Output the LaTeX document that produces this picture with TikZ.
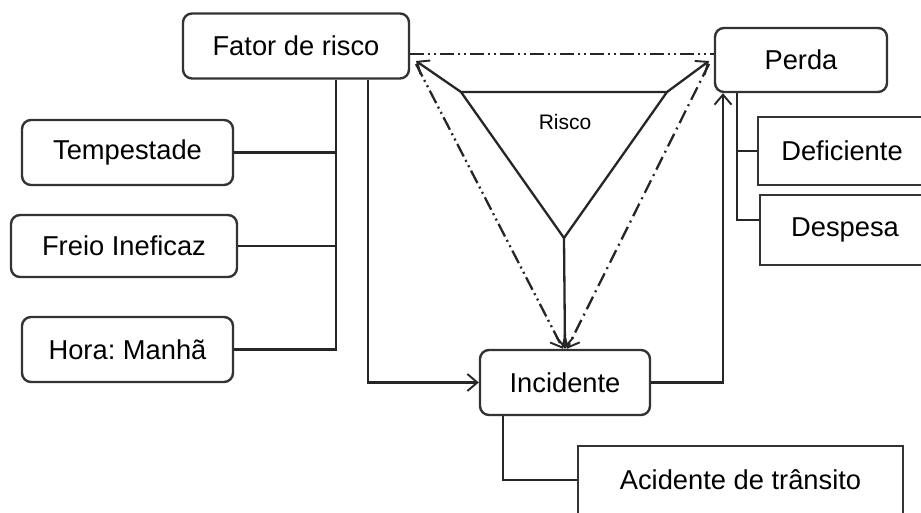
\documentclass[tikz,border=0pt]{standalone}
\usepackage{fontspec}
\setmainfont{Liberation Sans}
\frenchspacing
\usetikzlibrary{arrows.meta}
\tikzset{
	caixa/.style={draw=black!80,line width=2.4pt,rounded corners=9pt,inner sep=0pt,
		font=\fontsize{27.3}{32}\selectfont},
	quadro/.style={caixa,rounded corners=0pt},
	liga/.style={draw=black!85,line width=2.3pt},
	seta/.style={liga,-{Straight Barb[length=10pt,width=17pt,line width=1.9pt]}},
	traco/.style={seta,dash pattern=on 14pt off 5pt on 2pt off 5pt},
	tracoduplo/.style={seta,dash pattern=on 14pt off 4pt on 2pt off 4pt on 2pt off 4pt}
}
\begin{document}
\begin{tikzpicture}[x=1pt,y=-1pt]
\useasboundingbox (0,0) rectangle (921,512);
\clip (0,0) rectangle (921,512);
\node[caixa,minimum width=226pt,minimum height=65pt] (fator) at (296,46) {Fator de risco};
\node[caixa,minimum width=172pt,minimum height=64pt] (perda) at (801,60) {Perda};
\node[quadro,minimum width=168pt,minimum height=68pt] (deficiente) at (842,151) {Deficiente};
\node[quadro,minimum width=170pt,minimum height=70pt] (despesa) at (845,230) {Despesa};
\node[caixa,minimum width=170pt,minimum height=65pt] (incidente) at (565,382.5) {Incidente};
\node[quadro,minimum width=325pt,minimum height=68pt] (acidente) at (740.5,480) {Acidente de trânsito};
\node[caixa,minimum width=211pt,minimum height=65pt] (tempestade) at (127.5,152.5) {Tempestade};
\node[caixa,minimum width=226pt,minimum height=62pt] (freio) at (124,246) {Freio Ineficaz};
\node[caixa,minimum width=211pt,minimum height=65pt] (hora) at (127.5,349.5) {Hora: Manhã};
\coordinate (tronco) at (336,0);
\coordinate (desce) at (368,0);
\coordinate (sobe) at (723,0);
\coordinate (ramo) at (737,0);
\coordinate (baixo) at (503,0);
\draw[liga] (hora.east) -- (hora.east -| tronco) -- (fator.south -| tronco);
\draw[liga] (tempestade.east) -- (tempestade.east -| tronco);
\draw[liga] (freio.east) -- (freio.east -| tronco);
\draw[seta] (fator.south -| desce) |- (incidente.west);
\draw[seta] (incidente.east) -| (perda.south -| sobe);
\draw[liga] (perda.south -| ramo) |- (deficiente.west);
\draw[liga] (perda.south -| ramo) |- ([yshift=10pt]despesa.west);
\draw[liga] (incidente.south -| baixo) |- (acidente.west);
% triangulo do risco
\coordinate (ve) at (461,92);
\coordinate (vd) at (667,92);
\coordinate (vb) at (564,238);
\coordinate (fx) at (416,61);
\coordinate (px) at (709,61);
\draw[liga] (ve) -- (vd) -- (vb) -- cycle;
\node[font=\fontsize{21}{24}\selectfont] (risco) at (565,122) {Risco};
\draw[seta] (ve) -- (fx);
\draw[seta] (vd) -- (px);
\draw[seta] (vb) -- (incidente.north);
\draw[liga,dash pattern=on 14pt off 4pt on 2pt off 4pt on 2pt off 4pt] (fator.east |- 0,54) -- (perda.west |- 0,54);
\draw[tracoduplo] ([yshift=-3pt]fx) -- ([xshift=-2pt]incidente.north);
\draw[traco] ([yshift=-3pt]px) -- ([xshift=2pt]incidente.north);
\end{tikzpicture}
\end{document}
